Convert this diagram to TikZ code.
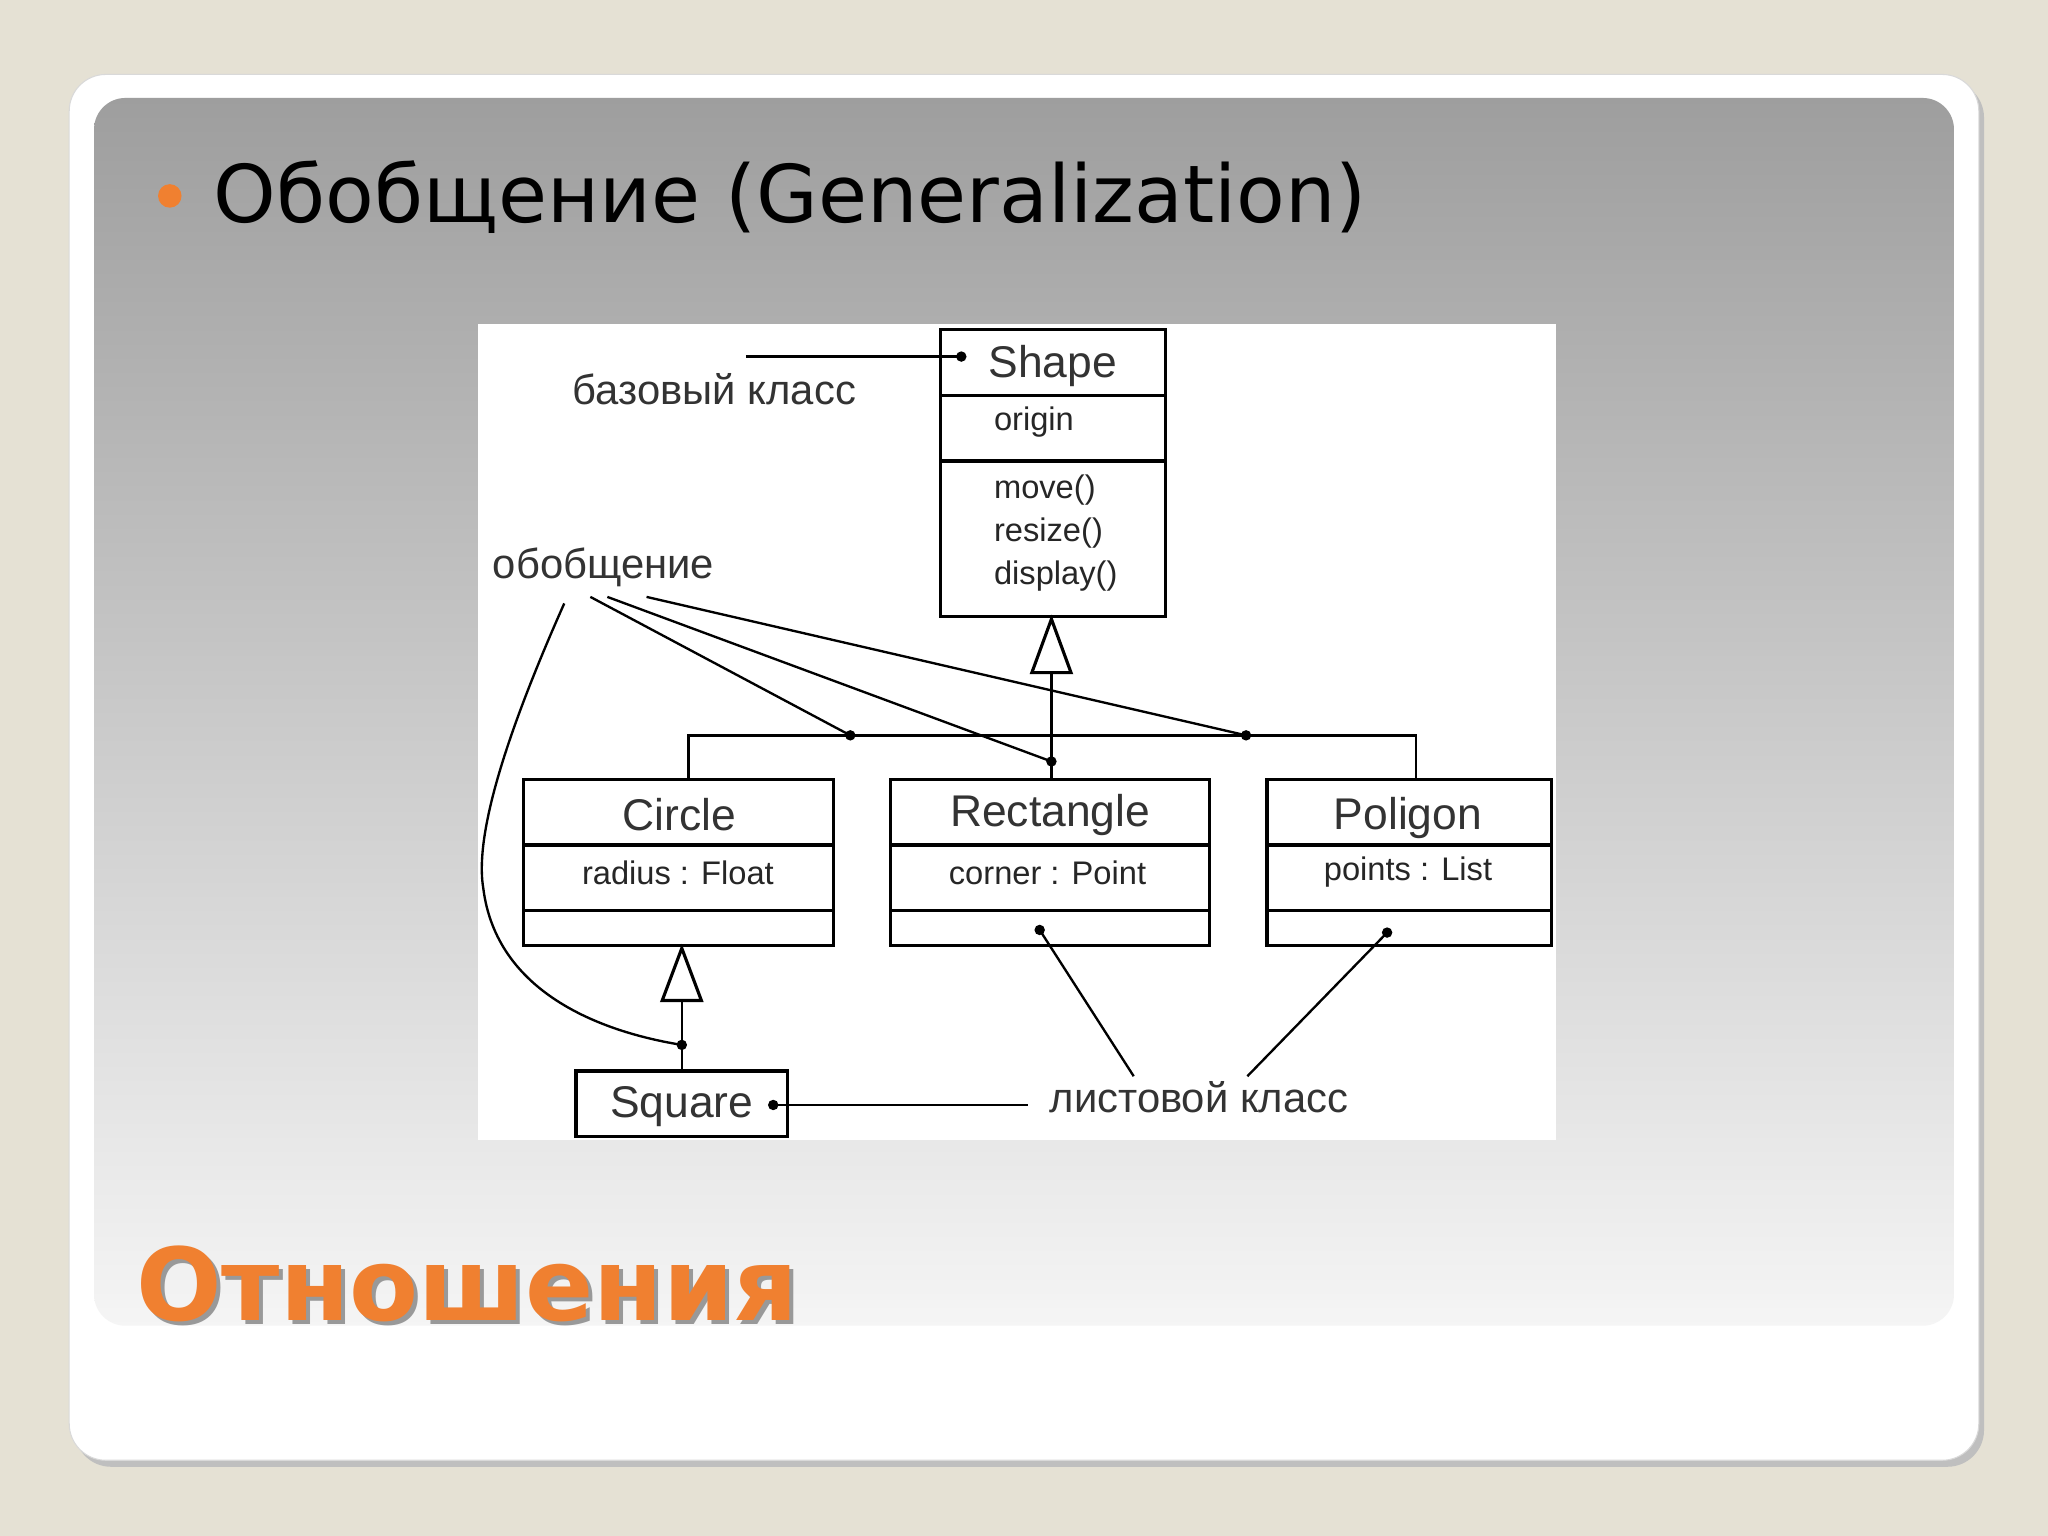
\documentclass[tikz,border=0pt]{standalone}
\usepackage{fontspec}
\setmainfont{Liberation Sans}
\newfontfamily\titlefont{DejaVu Sans}
\usetikzlibrary{shadows}
\definecolor{bgbeige}{HTML}{E5E1D4}
\definecolor{orng}{HTML}{F08030}
\tikzset{
  cls/.style={draw=black,line width=1.2pt},
  lnk/.style={draw=black,line width=0.9pt},
  dotc/.style={circle,fill=black,inner sep=0pt,minimum size=4pt},
  lbl/.style={font=\fontsize{16}{16}\selectfont,text=black!80},
  big/.style={font=\fontsize{17}{17}\selectfont,text=black!80},
  sml/.style={font=\fontsize{12.5}{12.5}\selectfont,text=black!85,anchor=west},
  gen/.style={draw=black,line width=1.2pt,fill=white}
}
\begin{document}
\begin{tikzpicture}[x=0.5pt,y=-0.5pt]
\useasboundingbox (0,0) rectangle (1568,1176);
\fill[bgbeige] (0,0) rectangle (1568,1176);
\fill[black!25,rounded corners=14pt] (57,62) rectangle (1519,1123);
\fill[white,draw=black!15,rounded corners=14pt] (53,57) rectangle (1515,1118);
\shade[top color=black!38,bottom color=black!4,rounded corners=12pt] (72,75) rectangle (1496,1015);
% title
\fill[orng] (130,150) circle (9);
\node[anchor=base west,font=\titlefont\fontsize{30.5}{30.5}\selectfont,inner sep=0] (title) at (163,170) {Обобщение (Generalization)};
% panel
\fill[white] (366,248) rectangle (1191,873);
% Shape
\draw[cls] (720,252) rectangle (892,472);
\draw[cls] (720,303) -- (892,303);
\draw[cls] (720,353) -- (892,353);
\node[big] (shape) at (806,280) {Shape};
\node[sml] (origin) at (754,323) {origin};
\node[sml] (m1) at (754,375) {move()};
\node[sml] (m2) at (754,408) {resize()};
\node[sml] (m3) at (754,441) {display()};
% Circle, Rectangle, Poligon
\draw[cls] (401,597) rectangle (638,724);
\draw[cls] (401,647) -- (638,647); \draw[cls] (401,697) -- (638,697);
\node[big] (circle) at (520,624) {Circle};
\node[sml,anchor=center] (rad) at (519,668) {radius : Float};
\draw[cls] (682,597) rectangle (926,724);
\draw[cls] (682,647) -- (926,647); \draw[cls] (682,697) -- (926,697);
\node[big] (rect) at (804,624) {Rectangle};
\node[sml,anchor=center] (cor) at (802,668) {corner : Point};
\draw[cls] (970,597) rectangle (1188,724);
\draw[cls] (970,647) -- (1188,647); \draw[cls] (970,697) -- (1188,697);
\node[big] (pol) at (1078,626) {Poligon};
\node[sml,anchor=center] (pts) at (1078,668) {points : List};
% Square
\draw[cls] (441,820) rectangle (603,870);
\node[big] (sq) at (522,847) {Square};
% generalization tree
\draw[lnk] (527,597) -- (527,563) -- (1084,563) -- (1084,597);
\draw[lnk] (805,515) -- (805,597);
\draw[gen] (805,474) -- (820,515) -- (790,515) -- cycle;
\draw[lnk] (522,766) -- (522,820);
\draw[gen] (522,726) -- (537,766) -- (507,766) -- cycle;
% labels
\node[lbl] (base) at (547,298) {базовый класс};
\draw[lnk] (571,273) -- (736,273); \node[dotc] at (736,273) {};
\node[lbl] (obo) at (462,434) {обобщение};
\draw[lnk] (452,457) -- (651,563); \node[dotc] at (651,563) {};
\draw[lnk] (465,457) -- (805,583); \node[dotc] at (805,583) {};
\draw[lnk] (495,457) -- (954,563); \node[dotc] at (954,563) {};
\draw[lnk] (432,462) .. controls (375,590) and (365,650) .. (370,680) .. controls (380,760) and (460,790) .. (522,800); \node[dotc] at (522,800) {};
\node[lbl] (leaf) at (918,840) {листовой класс};
\draw[lnk] (787,846) -- (592,846); \node[dotc] at (592,846) {};
\draw[lnk] (868,824) -- (796,712); \node[dotc] at (796,712) {};
\draw[lnk] (955,824) -- (1062,714); \node[dotc] at (1062,714) {};
% footer
\node[anchor=base west,font=\titlefont\bfseries\fontsize{38.5}{38.5}\selectfont,text=black!40,inner sep=0] at (107,1014) {Отношения};
\node[anchor=base west,font=\titlefont\bfseries\fontsize{38.5}{38.5}\selectfont,text=orng,inner sep=0] (foot) at (104,1011) {Отношения};
\end{tikzpicture}
\end{document}
